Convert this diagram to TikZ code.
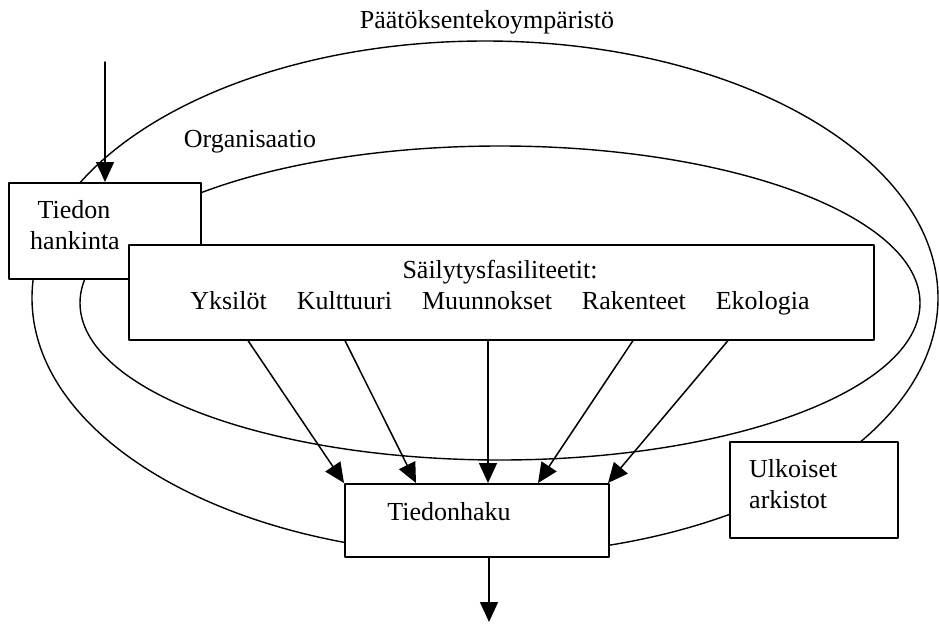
\documentclass[tikz,border=0pt]{standalone}
\usepackage{fontspec}
\setmainfont{Liberation Serif}
\usetikzlibrary{arrows.meta,calc,backgrounds,positioning}

\begin{document}
\begin{tikzpicture}[x=1pt, y=-1pt, font=\fontsize{26}{31}\selectfont, line cap=round, line join=round, >={Triangle[length=20pt,width=18pt]},
  box/.style={draw, fill=white, line width=1.6pt, rectangle, inner sep=0pt, anchor=north west},
  txt/.style={inner sep=0pt, anchor=base}, flow/.style={->, line width=1.5pt}]
\useasboundingbox (0,0) rectangle (939,624);
\coordinate (outer) at (485,298); \coordinate (inner) at (500,303); \coordinate (intop) at (105,62); \coordinate (outend) at (489,622);
\begin{scope}[on background layer]
\draw[line width=1.4pt] (outer) ellipse [x radius=453pt, y radius=257pt];
\draw[line width=1.4pt] (inner) ellipse [x radius=420pt, y radius=157pt];
\end{scope}
\node[box, minimum width=192pt, minimum height=96pt] (hank) at (8,182) {};
\node[box, minimum width=745pt, minimum height=95pt] (sail) at (128,244) {};
\node[box, minimum width=264pt, minimum height=73pt] (haku) at (344,483) {};
\node[box, minimum width=168pt, minimum height=96pt] (ulko) at (729,441) {};
\node[txt] (paat) at (487,28) {Päätöksentekoympäristö};
\node[txt] (org) at (250,147) {Organisaatio};
\node[txt] (hank1) at (74,218) {Tiedon}; \node[txt] (hank2) at (75,249) {hankinta};
\node[txt] (sail1) at (500,278) {Säilytysfasiliteetit:};
\node[txt] (sail2) at (500,309) {Yksilöt\hspace{1.15em}Kulttuuri\hspace{1.15em}Muunnokset\hspace{1.15em}Rakenteet\hspace{1.15em}Ekologia};
\node[txt] (haku1) at (449,520) {Tiedonhaku};
\node[txt, anchor=base west] (ulko1) at (749,477) {Ulkoiset}; \node[txt, anchor=base west] (ulko2) at (749,508) {arkistot};
\draw[flow] (intop) -- (intop |- hank.north);
\foreach \s/\t in {248/344,345/416,488/488,633/538,728/608}
  \draw[flow] (\s,0 |- sail.south) -- (\t,0 |- haku.north);
\draw[flow] (haku.south -| outend) -- (outend);
\end{tikzpicture}
\end{document}
